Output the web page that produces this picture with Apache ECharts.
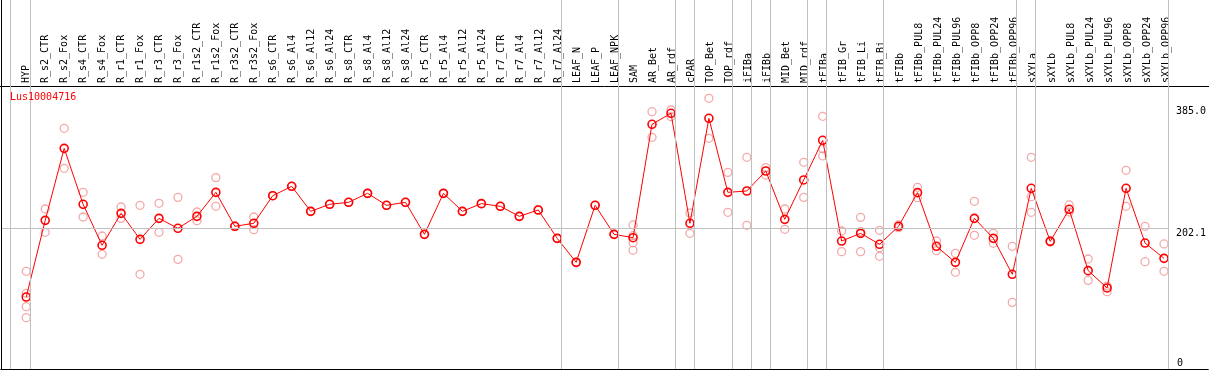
<!DOCTYPE html>
<html>
<head>
<meta charset="utf-8">
<script src="https://cdn.jsdelivr.net/npm/echarts@6/dist/echarts.min.js"></script>
<style>
  html, body { margin: 0; padding: 0; background: #fff; }
  #chart { width: 1209px; height: 370px; }
</style>
</head>
<body>
<div id="chart"></div>
<script>
const geneName = 'Lus10004716';

const categories = [
  'HYP',
  'R_s2_CTR', 'R_s2_Fox', 'R_s4_CTR', 'R_s4_Fox', 'R_r1_CTR', 'R_r1_Fox', 'R_r3_CTR', 'R_r3_Fox',
  'R_r1s2_CTR', 'R_r1s2_Fox', 'R_r3s2_CTR', 'R_r3s2_Fox',
  'R_s6_CTR', 'R_s6_Al4', 'R_s6_Al12', 'R_s6_Al24', 'R_s8_CTR', 'R_s8_Al4', 'R_s8_Al12', 'R_s8_Al24',
  'R_r5_CTR', 'R_r5_Al4', 'R_r5_Al12', 'R_r5_Al24', 'R_r7_CTR', 'R_r7_Al4', 'R_r7_Al12', 'R_r7_Al24',
  'LEAF_N', 'LEAF_P', 'LEAF_NPK',
  'SAM', 'AR_Bet', 'AR_rdf',
  'cPAR', 'TOP_Bet', 'TOP_rdf',
  'iFIBa', 'iFIBb', 'MID_Bet', 'MID_rdf',
  'tFIBa', 'tFIB_Gr', 'tFIB_Li', 'tFIB_Bi',
  'tFIBb', 'tFIBb_PUL8', 'tFIBb_PUL24', 'tFIBb_PUL96', 'tFIBb_OPP8', 'tFIBb_OPP24', 'tFIBb_OPP96',
  'sXYLa',
  'sXYLb', 'sXYLb_PUL8', 'sXYLb_PUL24', 'sXYLb_PUL96', 'sXYLb_OPP8', 'sXYLb_OPP24', 'sXYLb_OPP96'
];

const means = [
  99.3,
  213.9, 321.6, 237.9, 176.6, 224.4, 185.5, 216.9, 202.0,
  219.9, 255.8, 205.0, 209.5,
  250.8, 264.8, 227.4, 237.9, 240.9, 254.3, 236.4, 240.9,
  193.0, 254.3, 227.4, 238.9, 234.9, 219.9, 229.4, 187.0,
  151.1, 236.4, 193.0,
  188.0, 357.5, 374.0,
  209.5, 366.5, 255.8,
  257.8, 287.7, 215.4, 274.3,
  333.6, 183.0, 194.5, 178.1,
  205.0, 255.3, 175.1, 151.1, 216.9, 187.0, 133.2,
  261.8,
  182.5, 230.4, 138.7, 112.8, 261.8, 180.0, 157.1
];

const replicates = [
  [137.7, 104.8, 84.8, 68.4],
  [230.9, 196.0], [351.5, 291.7], [255.8, 218.9], [190.5, 163.1], [233.9, 216.9], [236.4, 133.2], [239.4, 196.0], [248.3, 155.6],
  [226.4, 213.4], [277.8, 234.9], [205.5, 204.5], [218.9, 200.0],
  [250.8, 250.8], [264.8, 264.8], [227.4, 227.4], [237.9, 237.9], [240.9, 240.9], [254.3, 254.3], [236.4, 236.4], [240.9, 240.9],
  [193.0, 193.0], [254.3, 254.3], [227.4, 227.4], [238.9, 238.9], [234.9, 234.9], [219.9, 219.9], [229.4, 229.4], [187.0, 187.0],
  [151.1, 151.1], [236.4, 236.4], [193.0, 193.0],
  [207.0, 191.0, 180.5, 169.1], [376.4, 338.1], [378.9, 369.0],
  [224.9, 194.5], [396.4, 336.6], [285.7, 225.9],
  [308.2, 206.5], [292.7, 281.7], [230.9, 200.5], [300.7, 248.3],
  [369.5, 321.0, 310.2], [198.0, 167.1], [218.4, 197.0, 167.1], [199.0, 173.1, 160.1],
  [207.0, 203.0], [263.3, 247.8], [183.0, 168.6], [164.6, 136.2], [242.4, 191.5], [194.5, 179.6], [175.1, 91.3],
  [308.2, 249.3, 225.9],
  [183.5, 181.5], [236.9, 226.4], [156.1, 124.2], [115.7, 107.3], [288.7, 234.9], [205.0, 152.1], [178.6, 137.7]
];

const groupEnds = ['HYP', 'R_r7_Al24', 'LEAF_NPK', 'AR_rdf', 'cPAR', 'TOP_rdf', 'iFIBa', 'iFIBb',
  'MID_rdf', 'tFIBa', 'tFIB_Bi', 'tFIBb_OPP96', 'sXYLa', 'sXYLb_OPP96'];

const yTickLabels = [385.0, 202.1];
const yZeroLabel = [0];
const meanLineValue = 202.1;

// ---- layout ----
const FONT = 'DejaVu Sans Mono';
const X_MIN = -1.279, X_MAX = 60.232;      // plot grid spans beyond first/last point
const Y_MIN = -8.37, Y_MAX = 543.4;
const SEP_OFFSET = 0.21;                    // separators sit just right of a group's last point
const LEFT_EDGE = -0.842;

const repData = [];
replicates.forEach((arr, i) => arr.forEach(v => repData.push([i, v])));
const meanData = means.map((v, i) => [i, v]);

const sepLines = [{ xAxis: LEFT_EDGE }]
  .concat(groupEnds.map(n => ({ xAxis: categories.indexOf(n) + SEP_OFFSET })))
  .concat([{ yAxis: meanLineValue }]);

const hiddenAxis = (extra) => Object.assign({
  type: 'value', min: 0, max: 1,
  axisLine: { show: false }, axisTick: { show: false },
  axisLabel: { show: false }, splitLine: { show: false }
}, extra);
const blackLine = { show: true, lineStyle: { color: '#000', width: 1 } };

const chart = echarts.init(document.getElementById('chart'), null, { renderer: 'canvas' });
chart.setOption({
  animation: false,
  backgroundColor: '#fff',
  title: {
    text: geneName, left: 10, top: 92, padding: 0,
    textStyle: { color: '#ff0000', fontSize: 10, fontFamily: FONT, fontWeight: 'normal' }
  },
  grid: [
    { left: 2, right: 38.3, top: 0, bottom: 1 },       // plot
    { left: 26.3, right: 42.7, top: 86, bottom: 1 },   // category labels
    { left: 0, right: 0, top: 0, height: 86 },         // header rule
    { left: 1, right: 1, top: 0, bottom: 1 }           // frame
  ],
  xAxis: [
    hiddenAxis({ gridIndex: 0, min: X_MIN, max: X_MAX }),
    {
      type: 'category', gridIndex: 1, position: 'top', data: categories, boundaryGap: false,
      axisLine: { show: false }, axisTick: { show: false }, splitLine: { show: false },
      axisLabel: { interval: 0, rotate: 90, margin: 3, color: '#000', fontSize: 10, fontFamily: FONT }
    },
    hiddenAxis({ gridIndex: 2, position: 'bottom', axisLine: blackLine }),
    hiddenAxis({ gridIndex: 3, position: 'top', axisLine: blackLine }),
    hiddenAxis({ gridIndex: 3, position: 'bottom', axisLine: blackLine })
  ],
  yAxis: [
    {
      type: 'value', gridIndex: 0, position: 'right', min: Y_MIN, max: Y_MAX,
      axisLine: { show: false }, axisTick: { show: false }, splitLine: { show: false },
      axisLabel: {
        customValues: yTickLabels, formatter: v => v.toFixed(1), margin: 7.5,
        align: 'left', verticalAlign: 'top', color: '#000', fontSize: 10, fontFamily: FONT
      }
    },
    {
      type: 'value', gridIndex: 0, position: 'right', min: Y_MIN, max: Y_MAX,
      axisLine: { show: false }, axisTick: { show: false }, splitLine: { show: false },
      axisLabel: {
        customValues: yZeroLabel, formatter: v => String(v), margin: 8.5,
        align: 'left', verticalAlign: 'middle', color: '#000', fontSize: 10, fontFamily: FONT
      }
    },
    hiddenAxis({ gridIndex: 1 }),
    hiddenAxis({ gridIndex: 2 }),
    hiddenAxis({ gridIndex: 3, position: 'left', axisLine: blackLine }),
    hiddenAxis({ gridIndex: 3, position: 'right', axisLine: blackLine })
  ],
  series: [
    {
      type: 'scatter', xAxisIndex: 0, yAxisIndex: 0, data: [], silent: true,
      markLine: {
        silent: true, symbol: ['none', 'none'], label: { show: false },
        lineStyle: { color: '#c0c0c0', width: 1, type: 'solid' },
        emphasis: { disabled: true },
        data: sepLines
      },
      z: 1
    },
    {
      type: 'scatter', xAxisIndex: 0, yAxisIndex: 0, data: repData,
      symbol: 'circle', symbolSize: 8,
      itemStyle: { color: 'rgba(0,0,0,0)', borderColor: '#f09494', borderWidth: 1.3 },
      z: 3
    },
    {
      type: 'line', xAxisIndex: 0, yAxisIndex: 0, data: meanData,
      symbol: 'circle', symbolSize: 8, showAllSymbol: true,
      lineStyle: { color: '#ff0000', width: 1 },
      itemStyle: { color: 'rgba(0,0,0,0)', borderColor: '#ff0000', borderWidth: 1.6 },
      z: 4
    }
  ]
});
</script>
</body>
</html>
